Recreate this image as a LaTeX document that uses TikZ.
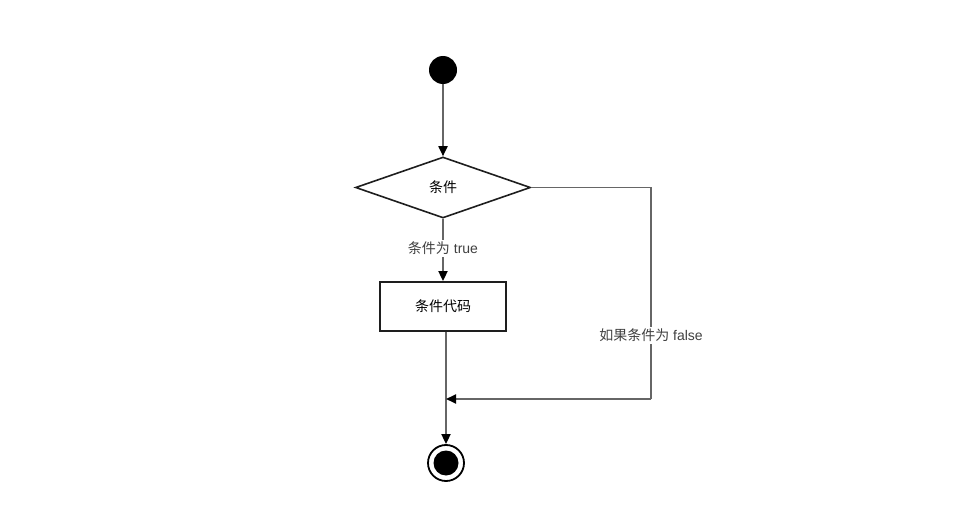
\documentclass[tikz,border=0pt]{standalone}
\usepackage{fontspec}
\usepackage{xcolor}
\usetikzlibrary{arrows.meta,positioning,shapes.geometric,calc}
\setmainfont{Liberation Sans}
\newfontfamily\cjk{Noto Sans CJK SC}
\definecolor{wire}{HTML}{666666}
\definecolor{ink}{HTML}{1E1E1E}

\begin{document}
\begin{tikzpicture}[
  x=1pt, y=-1pt,
  font=\fontsize{14pt}{16pt}\selectfont,
  flow/.style={draw=wire, line width=1.8pt, -{Triangle[length=10pt,width=9pt,fill=black,color=black]}},
  plain/.style={draw=wire, line width=1.8pt},
  decision/.style={diamond, draw=ink, line width=1.6pt, minimum width=175pt, minimum height=61pt, aspect=2.87, inner sep=0pt},
  action/.style={draw=ink, line width=1.8pt, minimum width=126pt, minimum height=49pt},
  label/.style={fill=white, inner sep=2pt, text=ink!85}
]
\useasboundingbox (0,0) rectangle (954,524);
\node[circle, fill=black, minimum size=28pt, inner sep=0pt] (start) at (443,70) {};
\node[decision] (cond) at (443,187.5) {\cjk 条件};
\node[action] (code) at (443,306.5) {\cjk 条件代码};
\node[circle, draw=black, line width=1.8pt, minimum size=36pt, inner sep=0pt] (stop) at (446,463) {};
\fill[black] (stop.center) circle (12.5pt);
\coordinate (join) at (446,399);
\coordinate (corner1) at (651,187.5);
\coordinate (corner2) at (651,399);

\draw[flow] (start) -- (cond);
\draw[flow] (cond.south) -- node[label, pos=0.47] {{\cjk 条件为} true} (code.north);
\draw[plain] (code.south -| join) -- (join);
\draw[flow] (join) -- (stop.north);
\draw[plain] (cond.east) -- (corner1) -- node[label, pos=0.7] {{\cjk 如果条件为} false} (corner2);
\draw[flow] (corner2) -- (join);
\end{tikzpicture}
\end{document}
